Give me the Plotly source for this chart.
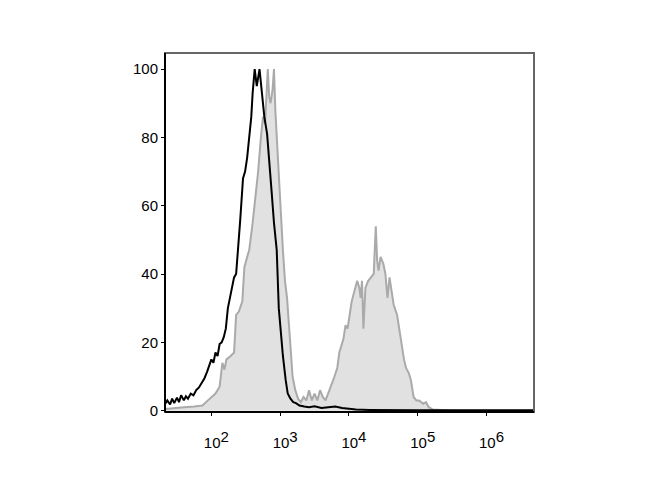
import plotly.graph_objects as go

# Black (control) histogram: log10 position, count (% of max)
black_log = [1.33, 1.36, 1.40, 1.43, 1.46, 1.50, 1.53, 1.56, 1.60, 1.63, 1.66, 1.70, 1.74, 1.78, 1.82,
             1.86, 1.90, 1.94, 1.97, 2.00, 2.03, 2.06, 2.09, 2.12, 2.15, 2.18, 2.21, 2.24, 2.27, 2.30,
             2.33, 2.36, 2.39, 2.42, 2.46, 2.49, 2.52, 2.55, 2.58, 2.60, 2.63, 2.66, 2.70, 2.74, 2.77,
             2.81, 2.84, 2.88, 2.91, 2.95, 2.98, 3.01, 3.04, 3.08, 3.11, 3.15, 3.19, 3.23, 3.28, 3.35,
             3.42, 3.50, 3.60, 3.70, 3.80, 3.90, 4.00, 4.10, 4.30, 4.60, 5.00, 6.70]
black_val = [2.0, 3.0, 1.8, 3.5, 2.2, 3.8, 2.5, 4.5, 3.0, 4.2, 3.5, 5.0, 4.5, 6.0, 6.8,
             8.0, 9.5, 11.5, 13.0, 15.0, 14.0, 17.0, 16.0, 19.5, 20.0, 21.5, 24.0, 30.0, 33.0, 36.0,
             39.0, 40.0, 47.0, 56.0, 68.0, 70.0, 74.0, 80.0, 86.0, 93.0, 100.0, 95.0, 100.0, 92.0, 86.0,
             81.0, 72.0, 63.0, 55.0, 47.0, 30.0, 22.0, 16.0, 9.0, 5.0, 3.5, 2.5, 2.2, 1.5, 1.2,
             1.0, 1.3, 0.8, 1.0, 1.2, 0.8, 0.6, 0.3, 0.2, 0.1, 0.1, 0.1]

# Grey (stained) filled histogram
grey_log = [1.33, 1.45, 1.60, 1.75, 1.87, 1.95, 2.00, 2.06, 2.12, 2.16, 2.19, 2.22, 2.28, 2.33, 2.36,
            2.40, 2.45, 2.48, 2.52, 2.55, 2.60, 2.64, 2.68, 2.72, 2.75, 2.78, 2.82, 2.84, 2.86, 2.89,
            2.91, 2.93, 2.95, 2.98, 3.01, 3.04, 3.07, 3.10, 3.12, 3.14, 3.16, 3.18, 3.22, 3.26, 3.30,
            3.34, 3.38, 3.42, 3.46, 3.50, 3.54, 3.58, 3.62, 3.66, 3.70, 3.74, 3.79, 3.83, 3.86, 3.89,
            3.92, 3.95, 3.98, 4.01, 4.04, 4.08, 4.12, 4.15, 4.17, 4.19, 4.21, 4.24, 4.28, 4.32, 4.36,
            4.39, 4.41, 4.43, 4.46, 4.50, 4.53, 4.56, 4.59, 4.62, 4.65, 4.70, 4.73, 4.76, 4.80, 4.83,
            4.87, 4.90, 4.92, 4.94, 4.98, 5.02, 5.08, 5.12, 5.16, 5.22, 5.50, 6.70]
grey_val = [0.5, 0.8, 1.0, 1.2, 1.5, 3.0, 4.0, 5.0, 7.0, 14.0, 12.0, 15.0, 16.0, 17.0, 28.0,
            29.0, 32.0, 42.0, 45.0, 47.0, 55.0, 62.0, 70.0, 80.0, 86.0, 84.0, 100.0, 92.0, 90.0, 94.0,
            100.0, 88.0, 81.0, 72.0, 58.0, 47.0, 38.0, 33.0, 28.0, 23.0, 16.0, 10.0, 6.0, 3.5, 2.5,
            4.0, 3.0, 6.0, 3.0, 5.0, 3.0, 6.0, 4.0, 3.0, 5.0, 7.5, 10.0, 12.5, 17.0, 19.0,
            21.0, 25.0, 24.0, 28.0, 32.0, 35.0, 38.0, 36.0, 33.0, 38.0, 24.0, 36.0, 38.0, 39.0, 40.0,
            54.0, 44.0, 41.0, 45.0, 43.0, 40.0, 33.0, 39.0, 35.0, 31.0, 28.0, 24.0, 19.0, 15.0, 12.5,
            11.0, 9.0, 6.0, 4.0, 3.0, 3.0, 2.0, 2.5, 1.0, 0.3, 0.0, 0.0]

y_ticks = [0, 20, 40, 60, 80, 100]
x_ticks_log = [2, 3, 4, 5, 6]
x_tick_exp = ["2", "3", "4", "5", "6"]
x_tick_text = ["10<sup><span style='font-size:15px'>%s</span></sup>" % e for e in x_tick_exp]

fig = go.Figure()
fig.add_trace(go.Scatter(
    x=[10 ** v for v in grey_log], y=grey_val, mode="lines",
    line=dict(color="#aaaaaa", width=2), fill="tozeroy", fillcolor="#e1e1e1",
    showlegend=False, hoverinfo="skip"))
fig.add_trace(go.Scatter(
    x=[10 ** v for v in black_log], y=black_val, mode="lines",
    line=dict(color="#000000", width=2), showlegend=False, hoverinfo="skip"))

font = dict(family="Liberation Sans, Arial, sans-serif", size=15, color="#000000")
fig.update_layout(
    width=670, height=500,
    margin=dict(l=157, r=144, t=45, b=96),
    paper_bgcolor="white", plot_bgcolor="white",
    font=font,
    xaxis=dict(type="log", range=[1.326, 6.69],
               tickvals=[10 ** v for v in x_ticks_log], ticktext=x_tick_text,
               ticks="outside", ticklen=3, tickcolor="#000",
               showgrid=False, zeroline=False, showline=False,
               ticklabelstandoff=14, ticklabelshift=5, tickfont=font),
    yaxis=dict(range=[-0.4, 104.7], tickvals=y_ticks,
               ticks="outside", ticklen=3, tickcolor="#000",
               showgrid=False, zeroline=False, showline=False,
               ticklabelstandoff=0, tickfont=font),
    shapes=[
        dict(type="rect", xref="paper", yref="paper", x0=0, x1=1, y0=0, y1=1,
             line=dict(color="#666666", width=2), layer="above"),
        dict(type="line", xref="paper", yref="paper", x0=0, x1=0, y0=0, y1=1,
             line=dict(color="#000000", width=2), layer="above"),
        dict(type="line", xref="paper", yref="paper", x0=0, x1=1, y0=0, y1=0,
             line=dict(color="#000000", width=2), layer="above"),
    ],
)

fig.write_html("out.html")
